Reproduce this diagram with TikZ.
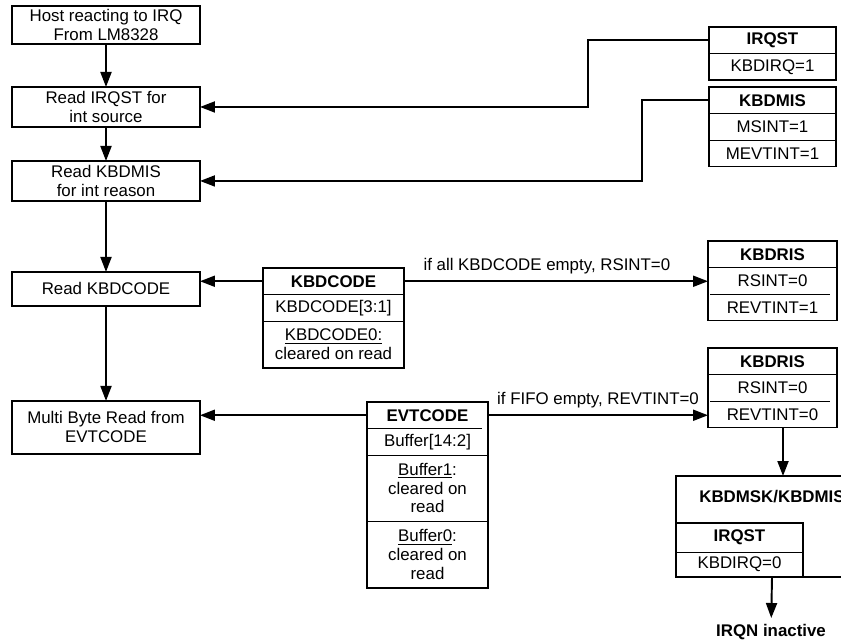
\documentclass[tikz,border=0pt]{standalone}
\usepackage{fontspec}
\setmainfont{Liberation Sans}
\usepackage{tikz}
\usetikzlibrary{arrows.meta, positioning, fit}
\newcommand{\regfont}{\fontsize{9.6}{10.8}\selectfont}
\tikzstyle{flowstep} = [
  rectangle, draw, line width=1.1pt,
  minimum width=3.76cm, minimum height=0.8cm,
  align=center, inner sep=1pt, outer sep=0pt
]
\tikzstyle{reghead} = [
  rectangle, minimum width=2.54cm, minimum height=0.53cm,
  inner sep=0pt, outer sep=0pt, align=center, font=\regfont\bfseries
]
\tikzstyle{regfield} = [
  rectangle, minimum width=2.54cm, minimum height=0.53cm,
  inner sep=0pt, outer sep=0pt, align=center
]
\tikzstyle{regframe} = [
  rectangle, draw, line width=1.1pt, inner sep=0pt, outer sep=0pt
]
\tikzstyle{divider} = [line width=0.5pt]
\tikzstyle{arrow} = [
  -{Triangle[length=0.3cm, width=0.22cm]}, line width=1.1pt
]
\begin{document}
\begin{tikzpicture}[x=0.02cm, y=-0.02cm,
                    every node/.style={font=\regfont}]
  \useasboundingbox (0,0) rectangle (841,641);
  \clip (0,0) rectangle (841,641);

  % ── Host steps ────────────────────────────────────────
  \node[flowstep, minimum height=0.76cm] (host) at (106,25)
    {Host reacting to IRQ\\From LM8328};
  \node[flowstep, below=0.86cm of host] (readirq) {Read IRQST for\\int source};
  \node[flowstep, below=0.68cm of readirq] (readmis) {Read KBDMIS\\for int reason};
  \node[flowstep, minimum height=0.68cm, below=1.42cm of readmis]
    (readcode) {Read KBDCODE};
  \node[flowstep, minimum height=1.06cm, below=1.9cm of readcode]
    (readevt) {Multi Byte Read from\\EVTCODE};

  % ── IRQST ─────────────────────────────────────────────
  \node[reghead] (irqsthead) at (772.5,40.25) {IRQST};
  \node[regfield, below=0pt of irqsthead] (irqstbit) {KBDIRQ=1};
  \node[regframe, fit=(irqsthead)(irqstbit)] (irqst) {};
  \draw[divider] (irqsthead.south west) -- (irqsthead.south east);

  % ── KBDMIS ────────────────────────────────────────────
  \node[reghead] (mishead) at (772.5,100.25) {KBDMIS};
  \node[regfield, below=0pt of mishead] (msint) {MSINT=1};
  \node[regfield, below=0pt of msint] (mevtint) {MEVTINT=1};
  \node[regframe, fit=(mishead)(mevtint)] (kbdmis) {};
  \draw[divider] (mishead.south west) -- (mishead.south east);
  \draw[divider] (msint.south west) -- (msint.south east);

  % ── KBDCODE ───────────────────────────────────────────
  \node[reghead, minimum width=2.82cm] (codehead) at (333.5,281.25) {KBDCODE};
  \node[regfield, minimum width=2.82cm, below=0pt of codehead]
    (codehi) {KBDCODE[3:1]};
  \node[regfield, minimum width=2.82cm, minimum height=0.94cm, below=0pt of codehi]
    (codelo) {\underline{KBDCODE0:}\\cleared on read};
  \node[regframe, fit=(codehead)(codelo)] (kbdcode) {};
  \draw[divider] (codehead.south west) -- (codehead.south east);
  \draw[divider] (codehi.south west) -- (codehi.south east);

  % ── KBDRIS (KBDCODE read) ─────────────────────────────
  \node[reghead, minimum width=2.58cm] (ris1head) at (772.5,254.25) {KBDRIS};
  \node[regfield, minimum width=2.58cm, below=0pt of ris1head] (ris1rs) {RSINT=0};
  \node[regfield, minimum width=2.58cm, below=0pt of ris1rs] (ris1rev) {REVTINT=1};
  \node[regframe, fit=(ris1head)(ris1rev)] (kbdris1) {};
  \draw[divider] (ris1head.south west) -- (ris1head.south east);
  \draw[divider] ([xshift=0.04cm]ris1rs.south west) -- ([xshift=-0.14cm]ris1rs.south east);

  % ── EVTCODE ───────────────────────────────────────────
  \node[reghead, minimum width=2.42cm] (evthead) at (427.5,415.25) {EVTCODE};
  \node[regfield, minimum width=2.42cm, below=0pt of evthead] (evthi) {Buffer[14:2]};
  \node[regfield, minimum width=2.42cm, minimum height=1.32cm, below=0pt of evthi]
    (evtbufa) {\underline{Buffer1}:\\cleared on\\read};
  \node[regfield, minimum width=2.42cm, minimum height=1.34cm, below=0pt of evtbufa]
    (evtbufb) {\underline{Buffer0}:\\cleared on\\read};
  \node[regframe, fit=(evthead)(evtbufb)] (evtcode) {};
  \draw[divider] (evthead.south west) -- ([xshift=-0.12cm]evthead.south east);
  \draw[divider] (evthi.south west) -- (evthi.south east);
  \draw[divider] (evtbufa.south west) -- (evtbufa.south east);

  % ── KBDRIS (EVTCODE read) ─────────────────────────────
  \node[reghead, minimum width=2.58cm] (ris2head) at (772.5,361.25) {KBDRIS};
  \node[regfield, minimum width=2.58cm, below=0pt of ris2head] (ris2rs) {RSINT=0};
  \node[regfield, minimum width=2.58cm, below=0pt of ris2rs] (ris2rev) {REVTINT=0};
  \node[regframe, fit=(ris2head)(ris2rev)] (kbdris2) {};
  \draw[divider] (ris2head.south west) -- (ris2head.south east);
  \draw[divider] ([xshift=0.04cm]ris2rs.south west) -- ([xshift=-0.14cm]ris2rs.south east);

  % ── KBDMSK/KBDMIS ─────────────────────────────────────
  \node[regframe, minimum width=3.84cm, minimum height=2.02cm] (kbdmsk) at (772,526.5) {};
  \node[font=\regfont\bfseries] (msktitle) at (772,497) {KBDMSK/KBDMIS};
  \node[reghead, minimum height=0.58cm, anchor=north west] (irq2head) at (676,523) {IRQST};
  \node[regfield, minimum height=0.5cm, below=0pt of irq2head] (irq2bit) {KBDIRQ=0};
  \node[regframe, fit=(irq2head)(irq2bit)] (irqst2) {};
  \draw[divider] (irq2head.south west) -- (irq2head.south east);

  \node[font=\regfont\bfseries] (irqn) at (771,632) {IRQN inactive};

  % ── Arrows ────────────────────────────────────────────
  \draw[arrow] (host) -- (readirq);
  \draw[arrow] (readirq) -- (readmis);
  \draw[arrow] (readmis) -- (readcode);
  \draw[arrow] (readcode) -- (readevt);
  \draw[arrow] (irqsthead.west) -- ++(-121,0) |- (readirq.east);
  \draw[arrow] (mishead.west) -- ++(-67,0) |- (readmis.east);
  \draw[arrow] (codehead.west) -- (readcode.east |- codehead.west);
  \draw[arrow] (codehead.east) -- node[above, pos=0.47]{if all KBDCODE empty, RSINT=0}
    (ris1rs.west |- codehead.east);
  \draw[arrow] (evthead.west) -- (readevt.east |- evthead.west);
  \draw[arrow] (evthead.east) -- node[above]{if FIFO empty, REVTINT=0}
    (ris2rev.west |- evthead.east);
  \draw[arrow] ([xshift=0.21cm]ris2rev.south) -- ([xshift=0.21cm]ris2rev.south |- kbdmsk.north);
  \draw[arrow] (kbdmsk.south) -- (irqn);

\end{tikzpicture}
\end{document}
